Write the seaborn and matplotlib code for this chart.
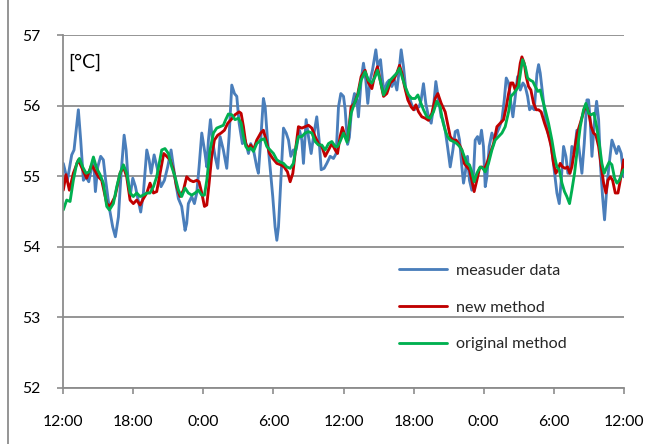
import matplotlib
matplotlib.use("Agg")
import matplotlib.pyplot as plt
import seaborn as sns
import pandas as pd
from matplotlib.lines import Line2D

# ---------------- data (hours since first 12:00, temperature in °C) ----------------
blue_hours = [0.0,0.35,0.72,0.92,1.29,1.49,1.72,1.95,2.18,2.43,2.58,2.75,2.95,3.2,3.43,3.63,3.92,4.23,4.46,4.72,
              4.95,5.21,5.38,5.55,5.72,5.95,6.18,6.35,6.63,6.86,7.15,7.35,7.52,7.78,8.05,8.37,8.66,8.94,9.23,9.43,
              9.63,9.86,10.14,10.43,10.57,10.71,11.0,11.23,11.43,11.63,11.86,12.14,12.29,12.43,12.6,12.77,13.0,13.23,13.43,13.71,
              14.0,14.2,14.43,14.66,14.86,15.06,15.34,15.57,15.86,16.05,16.29,16.57,16.71,16.91,17.14,17.29,17.49,17.71,17.94,18.14,
              18.29,18.43,18.63,18.86,19.09,19.29,19.49,19.71,19.94,20.23,20.43,20.57,20.8,21.0,21.23,21.43,21.71,21.91,22.09,22.34,
              22.57,22.86,23.14,23.37,23.57,23.77,24.0,24.14,24.35,24.5,24.71,24.94,25.14,25.28,25.51,25.71,25.91,26.08,26.28,26.48,
              26.77,26.94,27.17,27.34,27.51,27.71,27.91,28.14,28.37,28.57,28.71,28.94,29.14,29.34,29.51,29.71,29.91,30.08,30.28,30.48,
              30.65,30.85,31.05,31.28,31.51,31.71,31.91,32.14,32.37,32.51,32.71,32.91,33.14,33.37,33.57,33.77,33.94,34.14,34.28,34.42,
              34.62,34.79,34.99,35.14,35.28,35.48,35.65,35.82,35.99,36.14,36.28,36.48,36.71,36.91,37.14,37.37,37.57,37.77,37.94,38.14,
              38.34,38.51,38.71,38.91,39.14,39.37,39.57,39.77,39.94,40.14,40.34,40.57,40.71,40.85,41.05,41.28,41.51,41.71,41.91,42.08,
              42.28,42.48,42.65,42.85,43.05,43.22,43.39,43.56,43.76,43.99,44.19,44.42,44.62,44.85,44.99,45.13,45.28,45.48,45.68,45.85,
              46.02,46.19,46.36,46.56,46.76,46.99,47.19,47.39,47.56,47.79,48.0]
blue_temp = [55.18,54.94,55.30,55.37,55.94,55.51,54.94,54.99,54.92,55.13,55.25,54.78,55.13,55.28,55.23,54.94,54.57,54.28,54.14,54.42,
             55.04,55.58,55.37,54.94,54.71,54.97,54.85,54.71,54.49,54.76,55.37,55.23,55.04,55.30,55.11,54.85,54.94,55.13,55.37,55.13,
             54.90,54.68,54.57,54.23,54.33,54.61,54.71,54.61,54.76,55.13,55.61,55.32,55.13,55.51,55.80,55.51,55.28,55.11,55.56,55.37,
             55.11,55.56,56.29,56.17,56.13,55.75,55.46,55.51,55.32,55.46,55.37,55.13,55.04,55.51,56.10,55.98,55.51,55.13,54.71,54.28,
             54.09,54.28,54.94,55.68,55.61,55.51,55.28,55.37,55.37,55.65,55.51,55.18,55.80,55.56,55.32,55.56,55.84,55.51,55.09,55.11,
             55.18,55.28,55.25,55.32,55.98,56.17,56.13,55.95,55.45,55.55,55.98,56.17,56.08,55.84,56.36,56.60,56.36,56.03,56.36,56.50,
             56.79,56.55,56.65,56.36,56.17,56.32,56.36,56.27,56.36,56.22,56.41,56.79,56.55,56.22,56.13,56.08,55.98,55.94,55.98,55.98,
             56.08,56.31,56.03,55.84,55.75,55.98,56.34,56.08,55.84,55.80,55.65,55.42,55.13,55.37,55.63,55.65,55.51,55.13,54.90,55.04,
             55.28,54.94,54.80,55.04,55.51,55.56,55.46,55.65,55.42,54.85,54.99,55.42,55.61,55.51,55.61,55.70,55.80,56.08,56.39,56.32,
             56.03,55.84,56.13,56.41,56.22,56.32,56.27,56.13,55.94,55.98,55.94,56.45,56.58,56.46,56.17,55.84,55.61,55.51,55.28,55.04,
             54.76,54.61,54.94,55.42,55.28,55.04,55.04,55.42,55.32,55.65,55.37,55.04,55.46,56.08,56.08,55.80,55.28,55.75,56.06,55.80,
             55.13,54.71,54.38,54.85,55.18,55.51,55.42,55.32,55.42,55.32,54.99]

red_hours = [0.0,0.23,0.52,0.86,1.29,1.66,2.0,2.43,3.0,3.29,3.72,4.0,4.43,4.86,5.15,5.43,5.72,6.0,6.29,6.58,
             6.86,7.15,7.43,7.72,8.0,8.3,8.6,8.86,9.14,9.43,9.71,10.0,10.29,10.57,10.86,11.14,11.43,11.63,11.86,12.09,
             12.29,12.49,12.71,12.94,13.23,13.51,13.8,14.09,14.37,14.71,15.06,15.23,15.43,15.63,15.86,16.05,16.29,16.57,16.91,17.14,
             17.37,17.66,17.94,18.29,18.63,18.91,19.2,19.43,19.66,19.89,20.14,20.43,20.71,21.0,21.29,21.57,21.86,22.14,22.43,22.71,
             23.0,23.29,23.49,23.71,23.91,24.14,24.37,24.65,24.94,25.23,25.51,25.85,26.14,26.43,26.71,26.91,27.14,27.43,27.71,28.0,
             28.28,28.57,28.8,29.0,29.23,29.51,29.8,30.0,30.2,30.43,30.71,31.0,31.28,31.57,31.85,32.08,32.37,32.71,32.91,33.14,
             33.37,33.65,33.94,34.14,34.34,34.57,34.79,34.99,35.19,35.42,35.65,35.85,36.05,36.28,36.57,36.85,37.14,37.42,37.71,37.94,
             38.14,38.34,38.51,38.71,38.91,39.14,39.28,39.48,39.65,39.85,40.05,40.28,40.51,40.71,40.93,41.22,41.51,41.79,41.99,42.19,
             42.36,42.56,42.76,42.99,43.19,43.39,43.56,43.79,44.02,44.28,44.56,44.76,44.99,45.22,45.42,45.62,45.85,46.08,46.28,46.48,
             46.65,46.85,47.05,47.28,47.51,47.71,47.91,48.0]
red_temp = [54.80,55.02,54.80,55.04,55.23,55.09,54.97,55.16,54.99,54.94,54.61,54.57,54.71,55.04,55.13,54.99,54.66,54.61,54.66,54.59,
            54.68,54.76,54.90,54.76,54.78,55.05,55.32,55.28,55.23,55.09,54.85,54.71,54.80,54.99,54.94,54.92,54.94,54.92,54.76,54.57,
            54.59,54.90,55.28,55.51,55.58,55.61,55.65,55.75,55.80,55.87,55.91,55.89,55.70,55.46,55.39,55.44,55.37,55.51,55.61,55.65,
            55.51,55.32,55.25,55.18,55.16,55.13,55.06,54.92,55.04,55.37,55.70,55.68,55.70,55.72,55.68,55.56,55.46,55.42,55.28,55.37,
            55.46,55.37,55.32,55.56,55.69,55.56,55.51,55.98,56.03,56.17,56.41,56.50,56.32,56.24,56.46,56.55,56.36,56.13,56.17,56.32,
            56.36,56.46,56.57,56.46,56.27,56.08,55.98,55.94,56.01,55.91,55.84,55.82,55.79,55.89,56.10,56.17,56.03,55.91,55.75,55.56,
            55.51,55.51,55.44,55.37,55.18,55.13,55.09,54.94,54.78,54.94,55.11,55.13,55.09,55.18,55.32,55.46,55.70,55.75,55.80,55.98,
            56.17,56.32,56.32,56.22,56.32,56.60,56.69,56.60,56.41,56.27,56.22,56.03,55.94,55.94,55.91,55.75,55.61,55.42,55.18,55.04,
            55.09,55.18,55.13,55.11,55.13,55.04,55.13,55.37,55.61,55.75,55.91,56.01,55.91,55.70,55.61,55.58,55.42,55.13,54.90,54.76,
            54.94,54.99,54.94,54.76,54.76,54.94,55.13,55.23]

green_hours = [0.0,0.29,0.58,0.86,1.15,1.38,1.66,1.95,2.23,2.58,2.86,3.15,3.43,3.72,3.95,4.29,4.58,4.86,5.15,5.43,
               5.72,6.0,6.29,6.58,6.86,7.15,7.43,7.72,8.0,8.43,8.71,9.0,9.29,9.57,9.86,10.14,10.43,10.71,11.0,11.29,
               11.57,11.86,12.09,12.29,12.57,12.86,13.14,13.43,13.71,13.91,14.14,14.43,14.71,15.0,15.23,15.43,15.63,15.86,16.05,16.29,
               16.57,16.91,17.2,17.43,17.71,18.0,18.29,18.57,18.86,19.14,19.43,19.71,19.94,20.14,20.43,20.71,21.0,21.29,21.57,21.86,
               22.14,22.43,22.71,23.0,23.29,23.49,23.71,24.0,24.3,24.65,24.94,25.23,25.51,25.85,26.14,26.43,26.71,26.91,27.14,27.43,
               27.71,28.0,28.28,28.57,28.8,29.05,29.28,29.57,29.85,30.14,30.37,30.57,30.85,31.14,31.43,31.71,31.99,32.28,32.51,32.71,
               32.91,33.14,33.42,33.71,33.94,34.14,34.34,34.57,34.79,34.99,35.19,35.42,35.71,35.94,36.14,36.42,36.71,36.99,37.28,37.57,
               37.85,38.14,38.34,38.57,38.79,38.99,39.19,39.34,39.57,39.77,39.99,40.22,40.42,40.65,40.85,41.05,41.28,41.56,41.85,42.08,
               42.28,42.48,42.71,42.93,43.13,43.36,43.56,43.79,44.02,44.28,44.56,44.76,44.99,45.22,45.45,45.68,45.91,46.13,46.33,46.56,
               46.76,46.99,47.22,47.42,47.62,47.85,48.0]
green_temp = [54.52,54.66,54.64,54.94,55.18,55.25,55.13,55.04,55.06,55.27,55.11,55.02,54.90,54.57,54.52,54.61,54.85,55.04,55.16,55.04,
              54.76,54.71,54.76,54.71,54.73,54.76,54.76,54.85,54.99,55.37,55.39,55.32,55.13,54.99,54.80,54.71,54.83,54.76,54.73,54.76,
              54.80,54.73,54.73,54.94,55.37,55.61,55.68,55.70,55.72,55.80,55.88,55.87,55.80,55.82,55.75,55.56,55.42,55.37,55.40,55.35,
              55.46,55.51,55.53,55.42,55.37,55.32,55.23,55.20,55.18,55.13,55.11,55.18,55.42,55.56,55.56,55.61,55.63,55.61,55.49,55.44,
              55.44,55.37,55.46,55.49,55.42,55.42,55.49,55.61,55.48,55.89,56.03,56.15,56.36,56.48,56.36,56.32,56.41,56.50,56.36,56.15,
              56.24,56.36,56.41,56.46,56.53,56.39,56.27,56.15,56.10,56.10,56.15,56.06,55.94,55.84,55.82,55.91,56.06,55.98,55.77,55.65,
              55.56,55.51,55.49,55.46,55.42,55.37,55.28,55.18,55.16,55.06,54.92,55.04,55.13,55.11,55.06,55.18,55.37,55.51,55.56,55.61,
              55.70,55.91,56.13,56.17,56.22,56.27,56.50,56.65,56.55,56.39,56.36,56.34,56.27,56.20,56.22,56.08,55.94,55.75,55.51,55.28,
              55.13,55.09,54.90,54.78,54.71,54.61,54.80,55.04,55.37,55.70,55.94,56.03,55.89,55.87,55.89,55.70,55.46,55.18,55.04,55.13,
              55.20,55.16,54.97,54.90,54.94,55.04,55.09]

series_names = ["measuder data", "new method", "original method"]
series_colors = ["#4a7ebb", "#c00000", "#00b050"]
tick_hours = [0, 6, 12, 18, 24, 30, 36, 42, 48]
tick_labels = ["12:00", "18:00", "0:00", "6:00", "12:00", "18:00", "0:00", "6:00", "12:00"]
y_ticks = [52, 53, 54, 55, 56, 57]

# ---------------- plot ----------------
sns.set_style("white")
plt.rcParams["font.family"] = ["Lato", "DejaVu Sans"]

frames = [
    pd.DataFrame({"hour": blue_hours, "temp": blue_temp, "series": series_names[0]}),
    pd.DataFrame({"hour": red_hours, "temp": red_temp, "series": series_names[1]}),
    pd.DataFrame({"hour": green_hours, "temp": green_temp, "series": series_names[2]}),
]
df = pd.concat(frames, ignore_index=True)

W, H = 656, 444
fig = plt.figure(figsize=(W / 100, H / 100), dpi=100)
L, R, T, B = 63.3, 623.7, 35.0, 387.7
ax = fig.add_axes([L / W, (H - B) / H, (R - L) / W, (B - T) / H])

LW = 2.05
sns.lineplot(data=df, x="hour", y="temp", hue="series", hue_order=series_names,
             palette=series_colors, linewidth=LW, estimator=None, sort=False,
             legend=False, ax=ax)

ax.set_xlim(0, 48)
ax.set_ylim(52, 57)
ax.set_xticks(tick_hours)
ax.set_xticklabels(tick_labels)
ax.set_yticks(y_ticks)
ax.set_yticklabels([str(v) for v in y_ticks])
ax.set_xlabel("")
ax.set_ylabel("")

grid_col = "#8c8c8c"
ax.grid(axis="y", color=grid_col, linewidth=1.3)
ax.grid(axis="x", visible=False)
ax.set_axisbelow(True)
for s in ["top", "right"]:
    ax.spines[s].set_visible(False)
for s in ["left", "bottom"]:
    ax.spines[s].set_color(grid_col)
    ax.spines[s].set_linewidth(1.3)

ax.tick_params(axis="x", which="major", direction="out", length=4.5, width=1.2,
               color=grid_col, pad=15, labelsize=11.3, labelcolor="black")
ax.tick_params(axis="y", which="major", direction="out", length=4.5, width=1.2,
               color=grid_col, pad=12, labelsize=11.3, labelcolor="black")
ax.tick_params(bottom=True, left=True)

ax.text(0.008, 0.922, "[°C]", transform=ax.transAxes, fontsize=14,
        ha="left", va="center", color="black")

handles = [Line2D([0], [0], color=c, linewidth=LW) for c in series_colors]
fig.legend(handles, series_names, loc="upper left",
           bbox_to_anchor=(384 / W, (H - 249) / H), frameon=False,
           fontsize=11.6, handlelength=3.0, handletextpad=0.6, labelspacing=1.4,
           borderpad=0.4)

# outer chart border (left edge visible)
fig.add_artist(Line2D([8 / W, 8 / W], [0, 1], transform=fig.transFigure,
                      color="#8c8c8c", linewidth=1.3))

fig.savefig("out.png", dpi=100)
